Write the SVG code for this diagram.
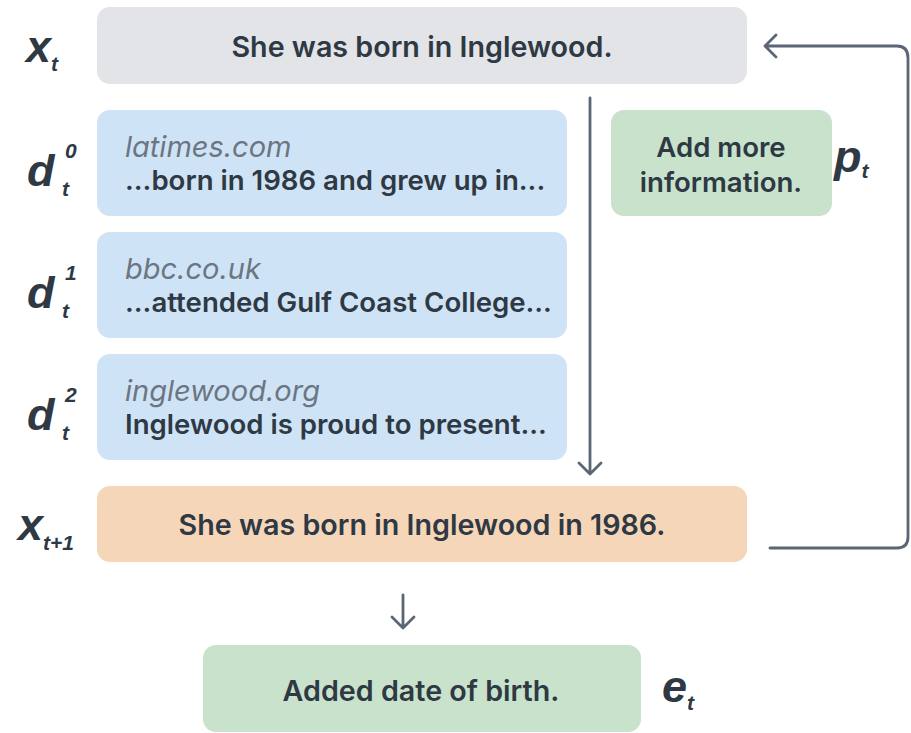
<svg xmlns="http://www.w3.org/2000/svg" width="911" height="733" viewBox="0 0 911 733">
  <style>
    .box-gray { fill: #e2e4e8; }
    .box-blue { fill: #cfe3f6; }
    .box-green { fill: #c8e2cc; }
    .box-orange { fill: #f6d6b9; }
    .txt { font-family: Inter, "Open Sans", sans-serif; font-weight: 600; fill: #2e3944; font-size: 27.6px; }
    .head { font-size: 28.7px; }
    .mid { text-anchor: middle; }
    .src { font-family: Inter, "Open Sans", sans-serif; font-style: italic; font-weight: 400; fill: #6c7682; font-size: 29px; }
    .lbl { font-family: "Liberation Sans", Arial, sans-serif; font-style: italic; font-weight: 700; fill: #2e3944; }
    .big { font-size: 45px; }
    .sm { font-size: 21px; }
    .conn { fill: none; stroke: #5b6575; stroke-width: 2.8; stroke-linecap: round; stroke-linejoin: round; }
  </style>

  <!-- connectors -->
  <g id="connectors">
    <!-- retrieval flow: x_t through documents into x_{t+1} -->
    <path class="conn" d="M590 98 V474 M579 463 L590 474 L601 463"/>
    <!-- feedback loop: x_{t+1} back to x_t -->
    <path class="conn" d="M770 548 H897 Q908 548 908 537 V58 Q908 46 897 46 H765 M776 35 L765 46 L776 57"/>
    <!-- x_{t+1} to edit summary -->
    <path class="conn" d="M403 595 V628 M392 617 L403 628 L414 617" stroke-width="2.2"/>
  </g>

  <g id="node-xt">
    <rect class="box-gray" x="97" y="7" width="650" height="77" rx="13"/>
    <text class="txt head mid" x="422" y="57">She was born in Inglewood.</text>
    <text class="lbl big" x="26" y="62">x<tspan class="sm" dy="9">t</tspan></text>
  </g>

  <g id="node-d0">
    <rect class="box-blue" x="97" y="110" width="470" height="106" rx="13"/>
    <text class="src" x="125" y="157">latimes.com</text>
    <text class="txt" x="125" y="190">...born in 1986 and grew up in...</text>
    <text class="lbl big" x="27" y="186">d</text>
    <text class="lbl sm" x="65" y="158">0</text>
    <text class="lbl sm" x="62" y="196">t</text>
  </g>

  <g id="node-d1">
    <rect class="box-blue" x="97" y="232" width="470" height="106" rx="13"/>
    <text class="src" x="125" y="279">bbc.co.uk</text>
    <text class="txt" x="125" y="312">...attended Gulf Coast College...</text>
    <text class="lbl big" x="27" y="308">d</text>
    <text class="lbl sm" x="65" y="280">1</text>
    <text class="lbl sm" x="62" y="318">t</text>
  </g>

  <g id="node-d2">
    <rect class="box-blue" x="97" y="354" width="470" height="106" rx="13"/>
    <text class="src" x="125" y="401">inglewood.org</text>
    <text class="txt" x="125" y="434">Inglewood is proud to present...</text>
    <text class="lbl big" x="27" y="430">d</text>
    <text class="lbl sm" x="65" y="402">2</text>
    <text class="lbl sm" x="62" y="440">t</text>
  </g>

  <g id="node-pt">
    <rect class="box-green" x="611" y="110" width="221" height="106" rx="13"/>
    <text class="txt mid" x="721" y="157">Add more</text>
    <text class="txt mid" x="721" y="192">information.</text>
    <text class="lbl big" x="834" y="172">p<tspan class="sm" dy="6">t</tspan></text>
  </g>

  <g id="node-xt1">
    <rect class="box-orange" x="97" y="486" width="650" height="76" rx="13"/>
    <text class="txt head mid" x="422" y="535">She was born in Inglewood in 1986.</text>
    <text class="lbl big" x="18" y="540">x<tspan class="sm" dy="10">t+1</tspan></text>
  </g>

  <g id="node-et">
    <rect class="box-green" x="203" y="645" width="438" height="87" rx="13"/>
    <text class="txt head mid" x="421" y="701">Added date of birth.</text>
    <text class="lbl big" x="662" y="702">e<tspan class="sm" dy="8">t</tspan></text>
  </g>
</svg>
